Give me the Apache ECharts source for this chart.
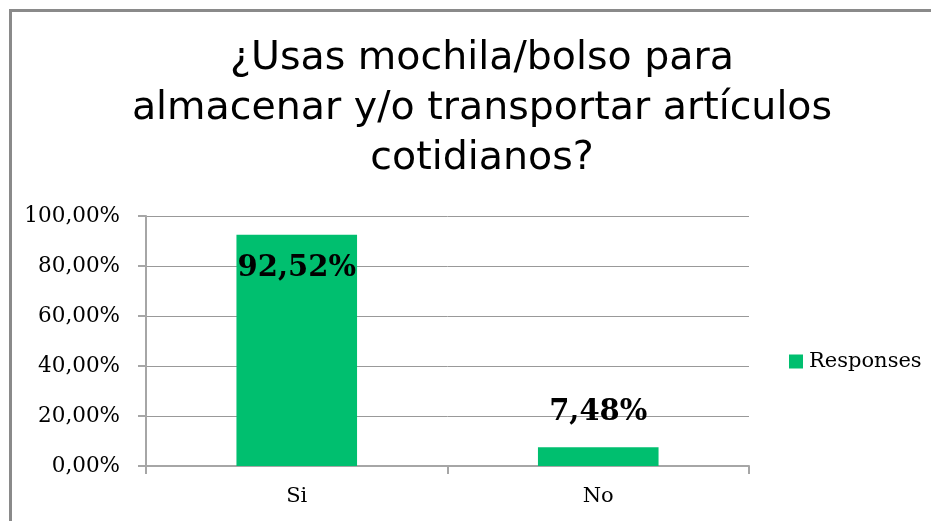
<!DOCTYPE html>
<html>
<head>
<meta charset="utf-8">
<script src="https://cdn.jsdelivr.net/npm/echarts@6/dist/echarts.min.js"></script>
<style>
html,body{margin:0;padding:0;background:#fff;}
#c{width:931px;height:521px;}
</style>
</head>
<body>
<div id="c"></div>
<script>
const categories = ['Si', 'No'];
const responses = [92.52, 7.48];
const yTicks = [0, 20, 40, 60, 80, 100];
const titleText = '¿Usas mochila/bolso para\nalmacenar y/o transportar artículos\ncotidianos?';
const seriesName = 'Responses';

function pct(v) { return Number(v).toFixed(2).replace('.', ',') + '%'; }

const chart = echarts.init(document.getElementById('c'));
const axisGray = '#A6A6A6';
const serif = '"DejaVu Serif", "Liberation Serif", serif';
chart.setOption({
  animation: false,
  backgroundColor: '#ffffff',
  title: {
    text: titleText,
    left: 477,
    textAlign: 'center',
    top: 29,
    textStyle: {
      fontFamily: '"DejaVu Sans", "Liberation Sans", sans-serif',
      fontSize: 39.5,
      fontWeight: 'normal',
      color: '#000',
      lineHeight: 50
    }
  },
  graphic: [{
    type: 'polyline',
    shape: { points: [[10.5, 521], [10.5, 10.5], [931, 10.5]] },
    style: { stroke: '#8A8A8A', lineWidth: 3, fill: null }
  }],
  legend: {
    data: [seriesName],
    orient: 'vertical',
    left: 784,
    top: 346,
    itemWidth: 14,
    itemHeight: 14,
    itemGap: 6,
    icon: 'rect',
    textStyle: { fontFamily: serif, fontSize: 21, color: '#000', padding: [0, 0, 0, 1] }
  },
  grid: { left: 146, right: 182, top: 216, bottom: 55, containLabel: false },
  xAxis: {
    type: 'category',
    data: categories,
    axisLine: { show: true, lineStyle: { color: axisGray, width: 2 } },
    axisTick: { show: true, length: 8, lineStyle: { color: axisGray, width: 2 } },
    axisLabel: { fontFamily: serif, fontSize: 21, color: '#000', margin: 20 }
  },
  yAxis: {
    type: 'value',
    min: yTicks[0],
    max: yTicks[yTicks.length - 1],
    interval: yTicks[1] - yTicks[0],
    axisLine: { show: true, lineStyle: { color: axisGray, width: 2 } },
    axisTick: { show: true, length: 8, lineStyle: { color: axisGray, width: 2 } },
    splitLine: { show: true, lineStyle: { color: '#999999', width: 1 } },
    axisLabel: { fontFamily: serif, fontSize: 21.5, color: '#000', margin: 26, formatter: pct }
  },
  series: [{
    name: seriesName,
    type: 'bar',
    data: responses.map(function (v, i) {
      return i === 0 ? { value: v, label: { position: 'insideTop', distance: 19 } } : v;
    }),
    barWidth: '40%',
    itemStyle: { color: '#00BF6F' },
    label: {
      show: true,
      fontFamily: serif,
      fontSize: 29,
      fontWeight: 'bold',
      color: '#000',
      formatter: p => pct(p.value),
      position: 'top',
      distance: 20
    }
  }]
});
</script>
</body>
</html>
